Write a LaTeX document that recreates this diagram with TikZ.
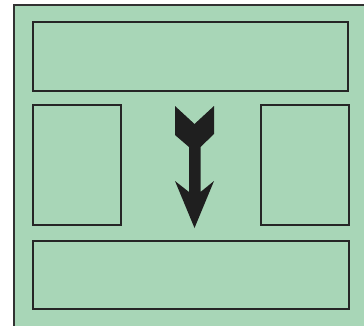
\documentclass[tikz,border=0pt]{standalone}
\begin{document}
\begin{tikzpicture}[x=1pt,y=-1pt,
  panel/.style={draw=black!85, line width=1.5pt, fill=bggreen, inner sep=0pt, minimum width=#1},
]
\definecolor{bggreen}{RGB}{168,214,183}
\definecolor{framegray}{RGB}{50,50,50}
\useasboundingbox (0,0) rectangle (364,325);
\clip (0,0) rectangle (364,325);
\fill[white] (0,0) rectangle (364,325);
\filldraw[fill=bggreen, draw=framegray, line width=1.5pt] (14,5) rectangle (380,340);
\node[panel=315pt, minimum height=69pt] (top) at (190.5,56.5) {};
\node[panel=88pt, minimum height=120pt] (left) at (77,165) {};
\node[panel=88pt, minimum height=120pt] (right) at (305,165) {};
\node[panel=316pt, minimum height=68pt] (bottom) at (191,275) {};
\fill[black!88] (175,106) -- (194.5,124) -- (214,106) -- (214,134) -- (200.5,147)
  -- (200.5,192) -- (214,181) -- (194.5,228) -- (175,181) -- (189,192)
  -- (189,147) -- (175,135) -- cycle;
\end{tikzpicture}
\end{document}
